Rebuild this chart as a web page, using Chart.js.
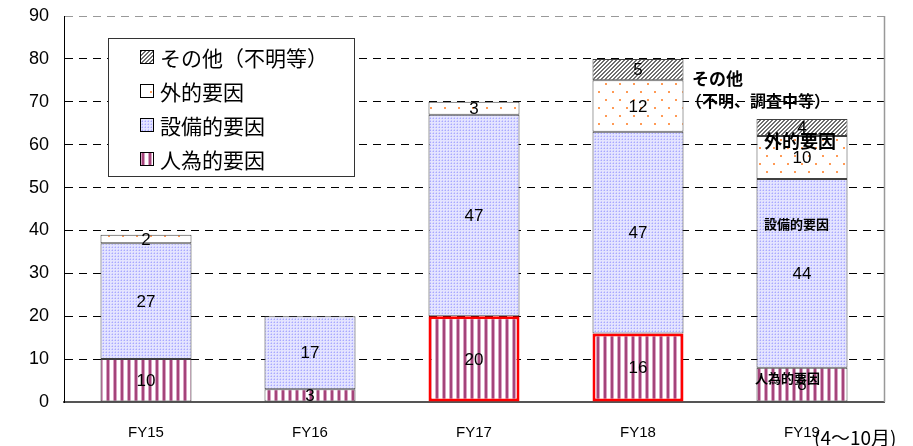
<!DOCTYPE html>
<html>
<head>
<meta charset="utf-8">
<script src="https://cdn.jsdelivr.net/npm/chart.js@4"></script>
<style>
  html, body { margin: 0; padding: 0; background: #fff; }
  #wrap { width: 913px; height: 446px; }
</style>
</head>
<body>
<div id="wrap"><canvas id="chart" width="913" height="446"></canvas></div>
<script>
// categories and series, stacked bottom -> top
const categories = ["FY15", "FY16", "FY17", "FY18", "FY19"];
const jinteki = [10, 3, 20, 16, 8];     // 人為的要因
const setsubi = [27, 17, 47, 47, 44];   // 設備的要因
const gaiteki = [2, 0, 3, 12, 10];      // 外的要因
const sonota = [0, 0, 0, 5, 4];         // その他（不明等）
const seriesNames = ["人為的要因", "設備的要因", "外的要因", "その他（不明等）"];
const yTicks = [0, 10, 20, 30, 40, 50, 60, 70, 80, 90];
const highlighted = [2, 3]; // bars with red outline on 人為的要因

const JP = '"Noto Sans CJK JP", sans-serif';
const LAT = '"Liberation Sans", Arial, sans-serif';

function makePattern(w, h, draw) {
  const c = document.createElement("canvas");
  c.width = w; c.height = h;
  const g = c.getContext("2d");
  g.fillStyle = "#ffffff";
  g.fillRect(0, 0, w, h);
  draw(g);
  return document.getElementById("chart").getContext("2d").createPattern(c, "repeat");
}

const patStripes = makePattern(7, 7, g => {
  g.fillStyle = "#d8a2c2"; g.fillRect(1, 0, 1, 7); g.fillRect(4, 0, 1, 7);
  g.fillStyle = "#a4447a"; g.fillRect(2, 0, 2, 7);
});
const patDots = makePattern(3, 3, g => {
  g.fillStyle = "#e4e4ff"; g.fillRect(0, 0, 3, 3);
  g.fillStyle = "#a8a8ff"; g.fillRect(1, 1, 1, 1);
  g.fillStyle = "#cacaff"; g.fillRect(0, 1, 1, 1); g.fillRect(1, 0, 1, 1);
});
const patOrange = makePattern(14, 16, g => {
  g.fillStyle = "#ff9a55"; g.fillRect(3, 3, 2, 2); g.fillRect(10, 11, 2, 2);
});
const patHatch = makePattern(4, 4, g => {
  g.fillStyle = "#6e6e6e";
  for (let i = 0; i < 4; i++) { g.fillRect(i, 3 - i, 1, 1); g.fillRect((i + 1) % 4, 3 - i, 1, 1); }
});
const fills = [patStripes, patDots, patOrange, patHatch];

const dataArrays = [jinteki, setsubi, gaiteki, sonota];
const datasets = dataArrays.map((arr, i) => ({
  label: seriesNames[i],
  data: arr,
  backgroundColor: fills[i],
  borderColor: i === 0 ? arr.map((v, j) => highlighted.includes(j) ? "#ff0000" : "#404040") : "#404040",
  borderWidth: i === 0 ? arr.map((v, j) => highlighted.includes(j) ? 3 : 1) : 1,
  borderSkipped: false,
  categoryPercentage: 1,
  barPercentage: 0.555
}));

// segment value labels
const valueLabels = {
  id: "valueLabels",
  afterDatasetsDraw(chart) {
    const ctx = chart.ctx;
    ctx.save();
    ctx.font = "17px " + LAT;
    ctx.fillStyle = "#000";
    ctx.textAlign = "center";
    ctx.textBaseline = "middle";
    chart.data.datasets.forEach((ds, i) => {
      chart.getDatasetMeta(i).data.forEach((bar, j) => {
        const v = ds.data[j];
        if (!v) return;
        ctx.fillText(String(v), bar.x, (bar.y + bar.base) / 2 + 1);
      });
    });
    ctx.restore();
  }
};

// frame, legend box and notes
const extras = {
  id: "extras",
  beforeDatasetsDraw(chart) {
    const { ctx, chartArea: a } = chart;
    ctx.save();
    ctx.strokeStyle = "#999";
    ctx.lineWidth = 1.5;
    ctx.beginPath();
    ctx.moveTo(a.right + 0.5, a.top);
    ctx.lineTo(a.right + 0.5, a.bottom);
    ctx.stroke();
    ctx.restore();
  },
  afterDraw(chart) {
    const { ctx, scales } = chart;
    const x = scales.x, y = scales.y;
    ctx.save();
    // legend
    const lx = 108, ly = 38, lw = 246, lh = 138;
    ctx.fillStyle = "#fff";
    ctx.fillRect(lx, ly, lw, lh);
    ctx.strokeStyle = "#333";
    ctx.lineWidth = 1;
    ctx.strokeRect(lx + 0.5, ly + 0.5, lw, lh);
    ctx.font = "21px " + JP;
    ctx.textBaseline = "middle";
    ctx.textAlign = "left";
    const order = [3, 2, 1, 0];
    order.forEach((di, k) => {
      const cy = ly + 19 + k * 34;
      ctx.fillStyle = fills[di];
      ctx.fillRect(140, cy - 7, 13, 13);
      ctx.strokeStyle = "#000";
      ctx.strokeRect(140.5, cy - 6.5, 13, 13);
      ctx.fillStyle = "#000";
      ctx.fillText(seriesNames[di], 160, cy + 1);
    });
    // notes beside bars
    ctx.fillStyle = "#000";
    ctx.font = "bold 17px " + JP;
    ctx.fillText("その他", x.getPixelForValue(3) + 54, y.getPixelForValue(75.5));
    ctx.font = "bold 16px " + JP;
    ctx.fillText("（不明、調査中等）", x.getPixelForValue(3) + 48, y.getPixelForValue(70.3));
    ctx.font = "bold 18px " + JP;
    ctx.fillText("外的要因", x.getPixelForValue(4) - 38, y.getPixelForValue(60.8));
    ctx.font = "bold 13px " + JP;
    ctx.fillText("設備的要因", x.getPixelForValue(4) - 38, y.getPixelForValue(41.5));
    ctx.fillText("人為的要因", x.getPixelForValue(4) - 47, y.getPixelForValue(5.5));
    // period note after FY19
    ctx.font = "19px " + JP;
    ctx.fillText("(4～10月)", x.getPixelForValue(4) + 12, 438);
    ctx.restore();
  }
};

new Chart(document.getElementById("chart"), {
  type: "bar",
  data: { labels: categories, datasets },
  options: {
    responsive: false,
    animation: false,
    layout: { padding: { top: 16, right: 29, left: 0, bottom: 0 } },
    plugins: { legend: { display: false }, tooltip: { enabled: false } },
    scales: {
      x: {
        stacked: true,
        grid: { display: false },
        border: { display: true, color: "#555", width: 2 },
        ticks: { color: "#000", font: { family: LAT, size: 15 }, padding: 14 },
        afterFit(s) { s.height = 44; s.paddingLeft = 0; s.paddingRight = 0; }
      },
      y: {
        stacked: true,
        min: 0,
        max: 90,
        afterBuildTicks(s) { s.ticks = yTicks.map(v => ({ value: v })); },
        grid: {
          color: ctx => ctx.tick && ctx.tick.value === 90 ? "#999" : "#000",
          lineWidth: 1,
          drawTicks: true,
          tickLength: 0
        },
        border: { display: true, color: "#000", width: 1, dash: [8, 6] },
        ticks: { color: "#000", font: { family: LAT, size: 18 }, padding: 15 },
        afterFit(s) { s.width = 64; s.paddingTop = 0; s.paddingBottom = 0; }
      }
    }
  },
  plugins: [valueLabels, extras]
});
</script>
</body>
</html>
